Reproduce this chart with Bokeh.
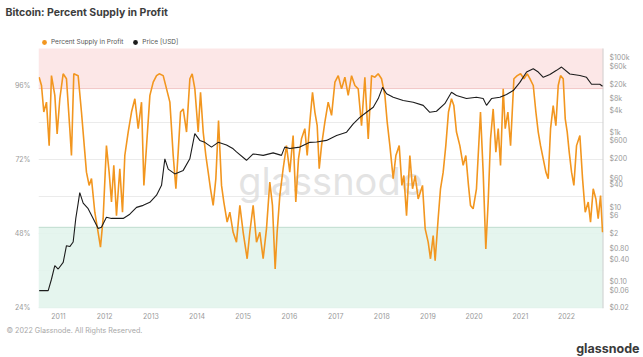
import pandas as pd
from bokeh.plotting import figure
from bokeh.core.properties import value
from bokeh.models import (Range1d, LogScale, LogAxis, FixedTicker, CustomJSTickFormatter,
                          PrintfTickFormatter, BoxAnnotation, Span, Label, Legend,
                          LegendItem, Title)
from bokeh.embed import file_html
from bokeh.resources import INLINE

# ---------------- data ----------------
supply_years = [
    2010.581, 2010.632, 2010.682, 2010.740, 2010.798, 2010.848, 2010.921, 2010.971, 2011.029, 2011.101,
    2011.173, 2011.245, 2011.281, 2011.332, 2011.426, 2011.498, 2011.570, 2011.606, 2011.664, 2011.715,
    2011.787, 2011.859, 2011.910, 2011.967, 2012.039, 2012.097, 2012.148, 2012.198, 2012.256, 2012.328,
    2012.386, 2012.436, 2012.509, 2012.581, 2012.653, 2012.725, 2012.797, 2012.848, 2012.906, 2012.978,
    2013.050, 2013.122, 2013.180, 2013.266, 2013.339, 2013.411, 2013.483, 2013.541, 2013.591, 2013.642,
    2013.700, 2013.772, 2013.844, 2013.894, 2013.952, 2014.024, 2014.075, 2014.133, 2014.190, 2014.241,
    2014.291, 2014.349, 2014.407, 2014.465, 2014.530, 2014.580, 2014.652, 2014.710, 2014.782, 2014.854,
    2014.927, 2014.999, 2015.085, 2015.143, 2015.215, 2015.288, 2015.360, 2015.432, 2015.504, 2015.576,
    2015.634, 2015.692, 2015.735, 2015.793, 2015.865, 2015.937, 2016.009, 2016.081, 2016.139, 2016.197,
    2016.262, 2016.334, 2016.385, 2016.442, 2016.500, 2016.551, 2016.601, 2016.645, 2016.695, 2016.767,
    2016.839, 2016.912, 2016.984, 2017.056, 2017.128, 2017.200, 2017.272, 2017.345, 2017.417, 2017.489,
    2017.561, 2017.633, 2017.706, 2017.778, 2017.850, 2017.922, 2017.994, 2018.067, 2018.117, 2018.175,
    2018.247, 2018.305, 2018.377, 2018.435, 2018.478, 2018.536, 2018.608, 2018.666, 2018.723, 2018.788,
    2018.882, 2018.940, 2019.005, 2019.055, 2019.113, 2019.156, 2019.221, 2019.272, 2019.330, 2019.387,
    2019.445, 2019.510, 2019.561, 2019.618, 2019.691, 2019.763, 2019.821, 2019.878, 2019.922, 2019.979,
    2020.051, 2020.138, 2020.196, 2020.253, 2020.304, 2020.355, 2020.412, 2020.470, 2020.521, 2020.571,
    2020.629, 2020.672, 2020.730, 2020.788, 2020.860, 2020.932, 2021.004, 2021.077, 2021.149, 2021.206,
    2021.279, 2021.336, 2021.387, 2021.437, 2021.495, 2021.553, 2021.603, 2021.654, 2021.711, 2021.769,
    2021.820, 2021.870, 2021.928, 2021.972, 2022.015, 2022.058, 2022.109, 2022.159, 2022.217, 2022.289,
    2022.347, 2022.405, 2022.470, 2022.520, 2022.578, 2022.636, 2022.686, 2022.737, 2022.780,
]
supply_pct = [
    98.7, 96.0, 87.4, 90.6, 76.5, 99.2, 92.8, 80.3, 91.7, 99.8,
    98.2, 82.0, 73.3, 99.8, 99.2, 87.4, 74.4, 67.9, 63.6, 65.8,
    54.9, 48.4, 43.6, 52.8, 76.5, 67.9, 58.2, 70.1, 53.8, 69.0,
    54.9, 73.3, 80.9, 87.4, 91.7, 82.0, 90.6, 63.6, 76.5, 92.8,
    97.1, 99.2, 99.8, 99.2, 94.9, 90.6, 73.3, 62.5, 74.4, 87.4,
    88.4, 80.9, 98.2, 99.8, 94.9, 80.9, 93.8, 80.9, 73.3, 67.9,
    62.5, 57.1, 65.8, 84.6, 63.6, 58.2, 51.7, 54.9, 48.4, 45.2,
    57.1, 48.4, 39.8, 48.4, 57.1, 45.2, 48.4, 39.8, 49.5, 64.7,
    57.1, 36.5, 48.4, 60.3, 69.0, 76.5, 67.9, 79.8, 58.2, 72.2,
    78.7, 82.0, 73.3, 84.1, 93.8, 87.4, 83.0, 69.0, 76.5, 84.1,
    90.6, 86.3, 97.1, 99.2, 94.9, 98.7, 92.8, 99.2, 96.0, 94.9,
    83.0, 98.7, 78.7, 99.2, 98.7, 99.8, 98.2, 92.8, 84.1, 76.5,
    65.8, 73.3, 76.5, 63.6, 66.8, 53.8, 73.3, 62.5, 66.8, 59.2,
    63.6, 49.5, 45.2, 39.8, 47.3, 39.2, 52.8, 62.5, 67.9, 76.5,
    87.4, 91.7, 89.5, 80.9, 76.5, 70.1, 73.3, 63.6, 57.1, 56.0,
    62.5, 87.4, 67.9, 43.0, 58.2, 78.7, 88.4, 74.4, 82.0, 70.1,
    94.9, 82.0, 87.4, 76.5, 98.2, 99.2, 99.8, 98.2, 99.8, 98.2,
    96.0, 87.4, 80.9, 76.5, 72.2, 67.9, 65.8, 82.0, 89.5, 83.0,
    96.0, 99.2, 98.2, 85.2, 80.9, 74.4, 67.9, 63.6, 76.5, 79.8,
    65.8, 54.9, 58.2, 51.7, 62.5, 59.2, 52.8, 60.3, 48.4,
]

price_years = [
    2010.582, 2010.777, 2010.848, 2010.920, 2010.994, 2011.102, 2011.173, 2011.245, 2011.318, 2011.375,
    2011.427, 2011.461, 2011.535, 2011.643, 2011.751, 2011.860, 2011.931, 2012.039, 2012.148, 2012.401,
    2012.544, 2012.689, 2012.834, 2012.977, 2013.122, 2013.230, 2013.302, 2013.375, 2013.518, 2013.700,
    2013.843, 2013.951, 2014.060, 2014.168, 2014.313, 2014.458, 2014.638, 2014.783, 2014.854, 2015.071,
    2015.216, 2015.433, 2015.649, 2015.829, 2015.900, 2016.009, 2016.225, 2016.442, 2016.587, 2016.803,
    2017.020, 2017.237, 2017.381, 2017.524, 2017.669, 2017.815, 2017.923, 2018.016, 2018.103, 2018.248,
    2018.464, 2018.681, 2018.897, 2019.040, 2019.185, 2019.365, 2019.510, 2019.618, 2019.835, 2020.051,
    2020.196, 2020.268, 2020.376, 2020.556, 2020.701, 2020.846, 2020.989, 2021.134, 2021.279, 2021.388,
    2021.496, 2021.639, 2021.784, 2021.892, 2022.072, 2022.289, 2022.433, 2022.542, 2022.721, 2022.780,
]
price_usd = [
    0.058, 0.058, 0.117, 0.27, 0.22, 0.33, 0.93, 0.88, 1.17, 5.0,
    12.8, 24.5, 12.8, 9.1, 5.0, 2.7, 2.9, 5.4, 5.0, 5.0,
    6.5, 9.9, 11.2, 13.5, 21, 38.5, 198, 105, 78, 97,
    198, 934, 618, 548, 408, 548, 467, 368, 303, 181,
    268, 245, 286, 245, 408, 373, 408, 548, 560, 618,
    840, 1027, 1715, 2567, 3500, 4785, 8170, 16340, 10970, 8870,
    7235, 6535, 5370, 3500, 3735, 5950, 12020, 9920, 8170, 8870,
    8170, 5370, 8170, 8870, 10500, 13420, 22170, 42010, 51350, 42010,
    30340, 36180, 46680, 57180, 37340, 33840, 30340, 19840, 19840, 17500,
]

year_ticks = [2011, 2012, 2013, 2014, 2015, 2016, 2017, 2018, 2019, 2020, 2021, 2022]
pct_ticks = [24, 48, 72, 96]
pct_grid = [24, 36, 48, 60, 72, 84, 96]
price_ticks = [0.02, 0.06, 0.1, 0.4, 0.8, 2, 6, 10, 40, 60, 200, 600, 1000, 4000, 8000,
               20000, 60000, 100000]
profit_zone = 95
loss_zone = 50

TITLE = "Bitcoin: Percent Supply in Profit"
SERIES = ["Percent Supply in Profit", "Price [USD]"]
FOOTER = "© 2022 Glassnode. All Rights Reserved."
BRAND = "glassnode"


def to_dt(years):
    out = []
    for y in years:
        yi = int(y)
        start = pd.Timestamp(year=yi, month=1, day=1)
        end = pd.Timestamp(year=yi + 1, month=1, day=1)
        out.append(start + (end - start) * (y - yi))
    return out


FONT = "Inter"
GREY = "#9a9a9a"
ORANGE = "#f2961f"
BLACK = "#1c1c1c"

PCT_LO, PCT_TOP, PCT_CHART_TOP = 23.67, 115.14, 108.0
X_LO, X_HI = to_dt([2010.567, 2022.801])
supply_x = to_dt(supply_years)
price_x = to_dt(price_years)

p = figure(frame_width=565, frame_height=282, x_axis_type="datetime", output_backend="svg",
           toolbar_location=None, min_border_left=38, min_border_right=40,
           min_border_top=26, min_border_bottom=49,
           x_range=Range1d(X_LO, X_HI), y_range=Range1d(PCT_LO, PCT_TOP))
p.outline_line_color = None
p.background_fill_color = "white"
p.border_fill_color = "white"

p.extra_y_ranges = {"price": Range1d(10 ** -1.716, 10 ** 5.8445)}
p.extra_y_scales = {"price": LogScale()}

p.xgrid.visible = False
p.ygrid.ticker = FixedTicker(ticks=pct_grid)
p.ygrid.grid_line_color = "#ebebeb"

# zones
p.add_layout(BoxAnnotation(bottom=profit_zone, top=PCT_CHART_TOP, fill_color="#fce4e4",
                           fill_alpha=0.9, line_color=None, level="underlay"))
p.add_layout(BoxAnnotation(top=loss_zone, fill_color="#e2f4ec", fill_alpha=0.9,
                           line_color=None, level="underlay"))
p.add_layout(Span(location=profit_zone, dimension="width", line_color="#f1c6c6",
                  line_width=1, level="underlay"))
p.add_layout(Span(location=loss_zone, dimension="width", line_color="#bfdccf",
                  line_width=1, level="underlay"))
# right border of the chart area
p.segment(x0=[X_HI], y0=[PCT_LO], x1=[X_HI], y1=[PCT_CHART_TOP], line_color="#d0d0d0",
          line_width=2)

# watermark
p.add_layout(Label(x=292, y=128, x_units="screen", y_units="screen", text=BRAND,
                   text_font=FONT, text_font_size="38px", text_color="#dadada",
                   text_alpha=0.75, text_align="center", text_baseline="middle",
                   level="underlay"))

# series
p.line(supply_x, supply_pct, line_color=ORANGE, line_width=1.6)
p.line(price_x, price_usd, line_color=BLACK, line_width=1.1, y_range_name="price")

# axes
p.xaxis.ticker = FixedTicker(ticks=[pd.Timestamp(year=y, month=1, day=1).value / 1e6
                                    for y in year_ticks])
p.xaxis.formatter = CustomJSTickFormatter(code="return String(new Date(tick).getUTCFullYear());")
p.yaxis.ticker = FixedTicker(ticks=pct_ticks)
p.yaxis.formatter = PrintfTickFormatter(format="%d%%")

right = LogAxis(y_range_name="price", ticker=FixedTicker(ticks=price_ticks))
right.formatter = CustomJSTickFormatter(code="""
if (tick >= 1000) return "$" + (tick / 1000) + "k";
if (tick >= 1) return "$" + tick;
return "$" + tick.toFixed(2);
""")
p.add_layout(right, "right")

for ax in (p.xaxis[0], p.yaxis[0], right):
    ax.major_tick_line_color = None
    ax.minor_tick_line_color = None
    ax.major_tick_out = 0
    ax.minor_tick_out = 0
    ax.axis_line_color = None
    ax.major_label_text_font = FONT
    ax.major_label_text_font_size = "7px"
    ax.major_label_text_color = GREY
p.yaxis[0].major_label_standoff = 8
right.major_label_standoff = 6
p.xaxis.major_label_standoff = 4

# legend (row above the chart area)
dot_supply = p.scatter(supply_x, supply_pct, size=0, fill_color=ORANGE, line_color=None)
dot_price = p.scatter(price_x, price_usd, size=0, fill_color=BLACK, line_color=None,
                      y_range_name="price")
p.add_layout(Legend(
    items=[LegendItem(label=value(SERIES[0]), renderers=[dot_supply]),
           LegendItem(label=value(SERIES[1]), renderers=[dot_price])],
    orientation="horizontal", location=(0, 260), glyph_width=12, glyph_height=12,
    label_height=12, label_standoff=1, spacing=6, padding=0, margin=0,
    border_line_color=None, background_fill_alpha=0,
    label_text_font=FONT, label_text_font_size="6.5px", label_text_color="#555555"))

# title
p.title.text = TITLE
p.title.align = "left"
p.title.offset = -33
p.title.vertical_align = "top"
p.title.standoff = 11
p.title.text_font = FONT
p.title.text_font_size = "10.5px"
p.title.text_font_style = "bold"
p.title.text_color = "#3d3d3d"

# footer
p.add_layout(Title(text=FOOTER, align="left", offset=-32, vertical_align="top", standoff=8,
                   text_font=FONT, text_font_size="7.2px", text_font_style="normal",
                   text_color="#a8a8a8"), "below")
p.add_layout(Title(text=BRAND, align="right", offset=-36, vertical_align="top", standoff=0,
                   text_font=FONT, text_font_size="12.5px", text_font_style="bold",
                   text_color="#3a3a3a"), "below")

open("out.html", "w").write(file_html(p, INLINE))
